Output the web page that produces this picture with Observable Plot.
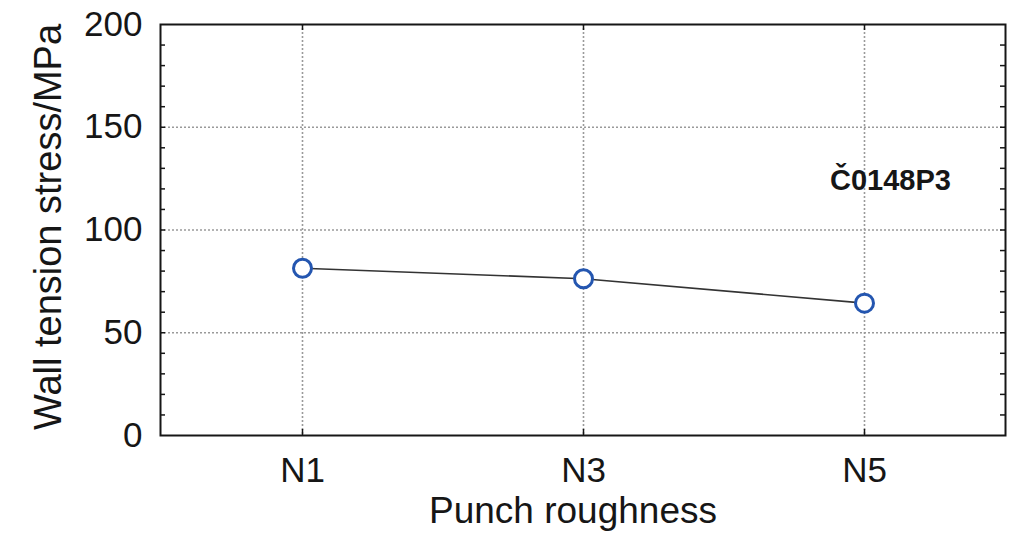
<!DOCTYPE html>
<html>
<head>
<meta charset="utf-8">
<script src="https://cdn.jsdelivr.net/npm/d3@7"></script>
<script src="https://cdn.jsdelivr.net/npm/@observablehq/plot@0.6"></script>
<style>
  html, body { margin: 0; padding: 0; background: #ffffff; }
  #chart { width: 1024px; height: 539px; }
</style>
</head>
<body>
<div id="chart"></div>
<script>
// ---- data ----
const categories = ["N1", "N3", "N5"];
const stress = [81.4, 76.3, 64.4];
const yTicks = [0, 50, 100, 150, 200];
const yGrid = [50, 100, 150];
const yMinorTicks = d3.range(10, 200, 10);
const xLabel = "Punch roughness";
const yLabel = "Wall tension stress/MPa";
const annotation = "Č0148P3";

const data = categories.map((c, i) => ({roughness: c, stress: stress[i]}));

const W = 1024, H = 539;
const mL = 160, mR = 19, mT = 24, mB = 104;
const fw = W - mL - mR, fh = H - mT - mB;
const ink = "#161616";
const gridStyle = {stroke: "#9a9a9a", strokeOpacity: 1, strokeWidth: 1.6, strokeDasharray: "2,2"};

const chart = Plot.plot({
  width: W,
  height: H,
  marginLeft: mL,
  marginRight: mR,
  marginTop: mT,
  marginBottom: mB,
  style: {fontFamily: "'Liberation Sans', Arial, sans-serif", fontSize: "35px", color: ink, background: "#ffffff"},
  x: {type: "point", domain: categories, padding: 0.5},
  y: {domain: [0, 200]},
  marks: [
    Plot.gridY(yGrid, gridStyle),
    Plot.gridX(categories, gridStyle),
    // minor ticks inside frame
    Plot.tickY(yMinorTicks, {y: d => d, insetRight: fw - 5, stroke: ink, strokeWidth: 1.5}),
    Plot.tickY(yMinorTicks, {y: d => d, insetLeft: fw - 5, stroke: ink, strokeWidth: 1.5}),
    Plot.tickX(categories, {x: d => d, insetTop: fh - 6, stroke: ink, strokeWidth: 1.5}),
    Plot.tickX(categories, {x: d => d, insetBottom: fh - 6, stroke: ink, strokeWidth: 1.5}),
    Plot.axisY({ticks: yTicks, tickSize: 0, tickPadding: 18, label: null, fontSize: 35}),
    Plot.axisX({tickSize: 0, tickPadding: 22, label: null, fontSize: 35}),
    Plot.frame({stroke: ink, strokeWidth: 2}),
    Plot.line(data, {x: "roughness", y: "stress", stroke: "#333333", strokeWidth: 1.6}),
    Plot.dot(data, {x: "roughness", y: "stress", r: 9, stroke: "#2456b0", strokeWidth: 3, fill: "white"}),
    Plot.text([annotation], {text: d => d, frameAnchor: "top-right", textAnchor: "middle", lineAnchor: "middle", dx: -115, dy: 156, fontSize: 29, fontWeight: "bold", fill: ink}),
    Plot.text([xLabel], {text: d => d, frameAnchor: "bottom", textAnchor: "middle", lineAnchor: "middle", dx: -10, dy: 76, fontSize: 37, fill: ink}),
    Plot.text([yLabel], {text: d => d, frameAnchor: "left", textAnchor: "middle", lineAnchor: "middle", rotate: -90, dx: -112, dy: -3, fontSize: 38, fill: ink})
  ]
});
document.getElementById("chart").appendChild(chart);
</script>
</body>
</html>
